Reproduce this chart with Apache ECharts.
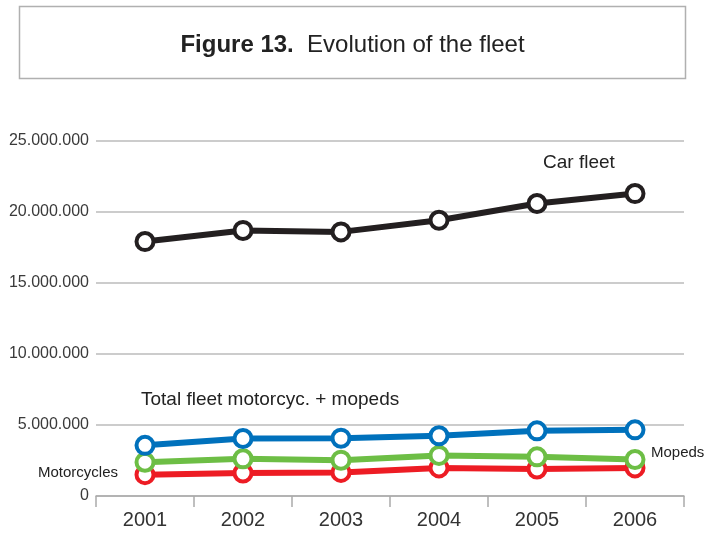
<!DOCTYPE html>
<html>
<head>
<meta charset="utf-8">
<script src="https://cdn.jsdelivr.net/npm/echarts@6/dist/echarts.min.js"></script>
<style>html,body{margin:0;padding:0;background:#fff}#c{width:705px;height:534px}</style>
</head>
<body>
<div id="c"></div>
<script>
const years = ['2001','2002','2003','2004','2005','2006'];
const carFleet = [17920000, 18700000, 18600000, 19420000, 20600000, 21300000];
const totalMotoMopeds = [3570000, 4050000, 4070000, 4240000, 4590000, 4660000];
const mopeds = [2380000, 2620000, 2520000, 2860000, 2760000, 2570000];
const motorcycles = [1500000, 1620000, 1660000, 1980000, 1900000, 1980000];
const yTicks = [0, 5000000, 10000000, 15000000, 20000000, 25000000];

const FONT = '"Liberation Sans", Arial, sans-serif';
const chart = echarts.init(document.getElementById('c'), null, {renderer: 'canvas'});

function fmt(v) {
  if (v === 0) return '0';
  return String(v).replace(/\B(?=(\d{3})+(?!\d))/g, '.');
}

function line(name, data, color) {
  return {
    name: name, type: 'line', data: data,
    symbol: 'circle', symbolSize: 17,
    lineStyle: {color: color, width: 6},
    itemStyle: {color: '#ffffff', borderColor: color, borderWidth: 4},
    emphasis: {disabled: true},
    animation: false
  };
}

chart.setOption({
  animation: false,
  backgroundColor: '#ffffff',
  title: {
    text: '{b|Figure 13.}  Evolution of the fleet',
    left: 'center', top: 28,
    textStyle: {
      fontFamily: FONT, fontSize: 24, fontWeight: 'normal', color: '#222',
      rich: {b: {fontFamily: FONT, fontSize: 24, fontWeight: 'bold', color: '#222'}}
    }
  },
  graphic: [
    {type: 'rect', shape: {x: 19.5, y: 6.5, width: 666, height: 72},
     style: {fill: 'none', stroke: '#b0b0b0', lineWidth: 1.5}, z: -1},
    {type: 'text', left: 543, top: 153, style: {text: 'Car fleet', font: '19px ' + FONT, fill: '#222'}},
    {type: 'text', left: 141, top: 390, style: {text: 'Total fleet motorcyc. + mopeds', font: '19px ' + FONT, fill: '#222'}},
    {type: 'text', left: 38, top: 465, style: {text: 'Motorcycles', font: '15px ' + FONT, fill: '#222'}},
    {type: 'text', left: 651, top: 445, style: {text: 'Mopeds', font: '15px ' + FONT, fill: '#222'}}
  ],
  grid: {left: 96, right: 21, top: 141, bottom: 38, containLabel: false, outerBoundsMode: 'none'},
  xAxis: {
    type: 'category', data: years, boundaryGap: true,
    axisLine: {lineStyle: {color: '#aaaaaa', width: 1.5}},
    axisTick: {show: true, length: 11, lineStyle: {color: '#aaaaaa', width: 1.5}},
    axisLabel: {fontFamily: FONT, fontSize: 20, color: '#333', margin: 14}
  },
  yAxis: {
    type: 'value', min: 0, max: 25000000, interval: 5000000,
    axisLine: {show: false}, axisTick: {show: false},
    splitLine: {lineStyle: {color: '#bbbbbb', width: 1.5}},
    axisLabel: {fontFamily: FONT, fontSize: 16, color: '#3a3a3a', margin: 7,
      formatter: function (v) { return yTicks.indexOf(v) >= 0 ? fmt(v) : ''; }}
  },
  series: [
    line('Motorcycles', motorcycles, '#ed1c24'),
    line('Mopeds', mopeds, '#6dbe45'),
    line('Total fleet motorcyc. + mopeds', totalMotoMopeds, '#0071bc'),
    line('Car fleet', carFleet, '#231f20')
  ]
});
</script>
</body>
</html>
